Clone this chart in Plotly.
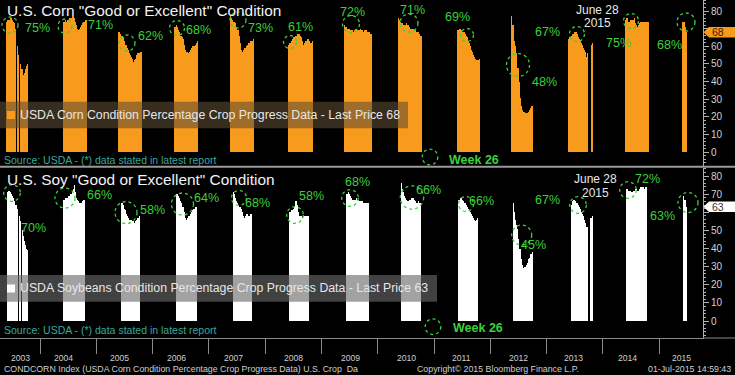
import pandas as pd
import plotly.graph_objects as go

# ------------------------------------------------------------------ data
YEARS = [2003, 2004, 2005, 2006, 2007, 2008, 2009, 2010, 2011, 2012, 2013, 2014, 2015]

# first weekly report date of each season (week-ending dates)
CORN_START = ['2003-05-31', '2004-06-01', '2005-05-24', '2006-05-23', '2007-05-21',
              '2008-06-01', '2009-05-30', '2010-05-16', '2011-06-03', '2012-05-18',
              '2013-05-23', '2014-05-28', '2015-05-31']
SOY_START = ['2003-06-03', '2004-06-01', '2005-06-12', '2006-06-05', '2007-06-10',
             '2008-06-07', '2009-06-12', '2010-06-04', '2011-06-09', '2012-05-31',
             '2013-06-12', '2014-06-03', '2015-06-07']

# weekly "good or excellent" percentages (None = no report that week)
CORN_2003 = [74, 75, 75, 76, 76, 75, 74, 73, 70, None, 60, 55, None, 50, 47, 44, 45, 47, 49, 50]
CORN_2004 = [74, 74, 75, 74, 75, 75, 76, 76, 77, 77, 76, 74, 72, 70, 69, 70, 71, 72, 73, 74, 75, 75]
CORN_2005 = [68, 68, 67, 66, 66, 65, 63, 61, 59, 58, 56, 55, 54, 53, 51, 52, 53, 55, 56, 56, 57, 57]
CORN_2006 = [71, 71, 72, 71, 69, 68, 66, 65, 64, 61, 58, 57, 57, 56, 57, 58, 59, 60, 60, 61, 62, 63]
CORN_2007 = [77, 76, 75, 74, 74, 73, 71, 69, 66, 62, 58, 57, 58, 59, 59, 60, 61, 62, 62, 63, 63, 64]
CORN_2008 = [61, 62, 62, 63, 64, 65, 66, 66, 67, 67, 67, 66, 65, 63, 61, 62, 63, 63, 64, 63, 62, 62, 63]
CORN_2009 = [72, 71, 71, 70, 70, 70, 69, 69, 68, 69, 70, 70, 69, 69, 69, 70, 69, 69, 68, 69, 69, 68, 68, 68, 67, 67]
CORN_2010 = [76, 75, 74, 73, 73, 72, 72, 73, 72, 72, 71, 70, 70, 70, 70, 69, 69, 68, 68, 67, 66, 66]
CORN_2011 = [69, 69, 70, 70, 69, 68, 68, 67, 66, 65, 63, 62, 60, 58, 57, 55, 54, 53, 52, 52, 53]
CORN_2012 = [77, 72, 72, 63, 60, 56, 48, 40, 31, 26, 24, 23, 23, 22, 22, 22, 23, 24, 25, 26]
CORN_2013 = [64, 65, 65, 66, 67, 67, 68, 68, 67, 65, 64, 63, 62, 61, 59, 58, 57, 54, 56, None, None, 61, 62]
CORN_2014 = [75, 76, 76, 74, 74, 75, 75, 75, 76, 73, 72, 71, 72, 73, 74, 74, 74, 74, 74, 74, 74, 74]
CORN_2015 = [74, 74, 74, 71, 68]

SOY_2003 = [71, 72, 72, 71, 70, 69, 68, 66, 64, 62, None, 58, 55, None, 50, 47, 44, 42, 40, 39]
SOY_2004 = [67, 67, 68, 68, 68, 69, 69, 70, 71, 73, 75, 71, 68, 67, 66, 65, 65, 65, 66, 67]
SOY_2005 = [65, 65, 64, 62, 61, 59, 58, 57, 56, 56, 55, 55, 54, 55, 56, 57, 57, 58]
SOY_2006 = [70, 70, 69, 68, 66, 65, 63, 60, 57, 56, 57, 58, 58, 59, 60, 61, 62, 62, 63]
SOY_2007 = [71, 70, 68, 66, 65, 64, 63, 62, 60, 58, 57, 58, 59, 59, 58, 58, 59, 59]
SOY_2008 = [60, 60, 61, 61, 62, 63, 66, 64, 60, 58, 58, 58, 57, 58, 58, 58, 58, 58, 58]
SOY_2009 = [70, 70, 71, 70, 69, 68, 67, 67, 67, 68, 67, 67, 66, 66, 66, 66, 65, 65, 65, 65, 65]
SOY_2010 = [76, 73, 71, 69, 68, 67, 66, 67, 67, 68, 68, 68, 67, 66, 65, 65, 66, 65, 65]
SOY_2011 = [67, 67, 68, 68, 67, 66, 65, 64, 63, 62, 61, 60, 59, 58, 57, 56, 55, 56, 57]
SOY_2012 = [65, 60, 56, 53, 51, 45, 40, 34, 31, 29, 30, 30, 31, 32, 34, 35, 37, 37, 38]
SOY_2013 = [64, 66, 67, 67, 66, 65, 64, 63, 62, 60, 59, 58, 56, 54, 52, 52, None, None, 57, 58]
SOY_2014 = [73, 73, 72, 72, 72, 71, 71, 72, 73, 73, 72, 72, 73, 74, 74, 74, 74, 73, 74, 74]
SOY_2015 = [69, 67, 67, 63]

CORN_SERIES = [CORN_2003, CORN_2004, CORN_2005, CORN_2006, CORN_2007, CORN_2008, CORN_2009,
               CORN_2010, CORN_2011, CORN_2012, CORN_2013, CORN_2014, CORN_2015]
SOY_SERIES = [SOY_2003, SOY_2004, SOY_2005, SOY_2006, SOY_2007, SOY_2008, SOY_2009,
              SOY_2010, SOY_2011, SOY_2012, SOY_2013, SOY_2014, SOY_2015]

CORN_WEEK26 = ['75%', '71%', '62%', '68%', '73%', '61%', '72%', '71%', '69%', '48%', '67%', '75%', '68%']
SOY_WEEK26 = ['70%', '66%', '58%', '64%', '68%', '58%', '68%', '66%', '66%', '45%', '67%', '72%', '63%']
CORN_LAST = CORN_2015[-1]
SOY_LAST = SOY_2015[-1]
Y_TICKS = [0, 10, 20, 30, 40, 50, 60, 70, 80]

# ------------------------------------------------------------------ layout constants (pixels)
W, H = 735, 375
PW = 703                        # plot area width (right axis at x=703)
X_RANGE = ['2003-04-16', '2015-10-13']
TOP_DOM = (0, 166)              # pixel rows of the corn panel
BOT_DOM = (168, 338)            # pixel rows of the soy panel
TOP_Y = (-7.757, 86.228)
BOT_Y = (-9.379, 84.414)

ORANGE = 'rgba(248,154,28,0.999)'
WHITE = 'rgba(255,255,255,0.999)'
GREEN = '#3ccf3c'
TEAL = '#3aa89c'
FONT = 'Liberation Sans, Arial, sans-serif'


def px(x):
    return x / PW


def py(y):
    return 1 - y / H


def weekly(starts, series):
    xs, ys = [], []
    for s, vals in zip(starts, series):
        d = pd.date_range(s, periods=len(vals), freq='7D')
        xs += list(d.strftime('%Y-%m-%d'))
        ys += list(vals)
    return xs, ys


cx, cy = weekly(CORN_START, CORN_SERIES)
sx, sy = weekly(SOY_START, SOY_SERIES)

fig = go.Figure()
fig.add_trace(go.Bar(x=cx, y=cy, xaxis='x', yaxis='y', hoverinfo='skip',
                     marker=dict(color=ORANGE, line=dict(width=0)), showlegend=False))
fig.add_trace(go.Bar(x=sx, y=sy, xaxis='x2', yaxis='y2', hoverinfo='skip',
                     marker=dict(color=WHITE, line=dict(width=0)), showlegend=False))


def yaxis_common(hidden):
    # the tick label hidden under the last-price tag is left blank
    return dict(side='right', showgrid=False, zeroline=False, showline=True,
                linecolor='#b0b0b0', linewidth=1, ticks='outside', ticklen=5,
                tickcolor='#b0b0b0', tickmode='array', tickvals=Y_TICKS,
                ticktext=['' if t == hidden else str(t) for t in Y_TICKS],
                tickfont=dict(family=FONT, size=10, color='#d0d0d0'),
                minor=dict(ticks='outside', ticklen=2, tickcolor='#b0b0b0', tick0=0, dtick=2,
                           showgrid=False),
                fixedrange=True)


jan1 = [f'{y}-01-01' for y in YEARS[1:]]

fig.update_layout(
    width=W, height=H,
    margin=dict(l=0, r=W - PW, t=0, b=0),
    paper_bgcolor='black', plot_bgcolor='black',
    bargap=0, bargroupgap=0, barmode='overlay',
    showlegend=False,
    xaxis=dict(domain=[0, 1], range=X_RANGE, type='date', visible=False, anchor='y',
               fixedrange=True),
    xaxis2=dict(domain=[0, 1], range=X_RANGE, type='date', anchor='y2', showgrid=False,
                zeroline=False, showline=True, linecolor='#8a8a8a', linewidth=1,
                ticks='outside', ticklen=15, tickcolor='#8a8a8a', tickmode='array',
                tickvals=jan1, showticklabels=False, fixedrange=True),
    yaxis=dict(domain=[py(TOP_DOM[1]), py(TOP_DOM[0])], range=list(TOP_Y), anchor='x',
               **yaxis_common(70)),
    yaxis2=dict(domain=[py(BOT_DOM[1]), py(BOT_DOM[0])], range=list(BOT_Y), anchor='x2',
                **yaxis_common(60)),
)

shapes = []
ann = []

# panel separator line
shapes.append(dict(type='line', xref='paper', yref='paper', x0=0, x1=W / PW,
                   y0=py(166.8), y1=py(166.8), line=dict(color='#9a9a9a', width=2)))
shapes.append(dict(type='line', xref='paper', yref='paper', x0=1, x1=W / PW,
                   y0=py(338), y1=py(338), line=dict(color='#8a8a8a', width=1)))

# legend boxes
shapes.append(dict(type='rect', xref='paper', yref='paper', x0=0, x1=px(408), y0=py(128.3),
                   y1=py(101.7), fillcolor='rgba(95,78,52,0.58)', line=dict(width=0)))
shapes.append(dict(type='rect', xref='paper', yref='paper', x0=px(7), x1=px(15), y0=py(119),
                   y1=py(111), fillcolor='#f89a1c', line=dict(width=0)))
shapes.append(dict(type='rect', xref='paper', yref='paper', x0=0, x1=px(437), y0=py(301.7),
                   y1=py(275), fillcolor='rgba(105,105,105,0.62)', line=dict(width=0)))
shapes.append(dict(type='rect', xref='paper', yref='paper', x0=px(7), x1=px(15), y0=py(292.5),
                   y1=py(284.5), fillcolor='#ffffff', line=dict(width=0)))

ann.append(dict(text='USDA Corn Condition Percentage Crop Progress Data - Last Price %d' % CORN_LAST,
                x=px(18), y=py(115), xanchor='left', yanchor='middle'))
ann.append(dict(text='USDA Soybeans Condition Percentage Crop Progress Data - Last Price %d' % SOY_LAST,
                x=px(18), y=py(288.3), xanchor='left', yanchor='middle'))
for a in ann:
    a.update(xref='paper', yref='paper', showarrow=False,
             font=dict(family=FONT, size=12.3, color='#e6e6e6'))

# titles and source lines
for txt, yy in [('U.S. Corn "Good or Excellent" Condition', 11),
                ('U.S. Soy "Good or Excellent" Condition', 179.5)]:
    ann.append(dict(text=txt, x=px(5), y=py(yy), xref='paper', yref='paper', xanchor='left',
                    yanchor='middle', showarrow=False,
                    font=dict(family=FONT, size=15.4, color='#f2f2f2')))
for yy in [159.5, 329.5]:
    ann.append(dict(text='Source: USDA - (*) data stated in latest report', x=px(1.5), y=py(yy),
                    xref='paper', yref='paper', xanchor='left', yanchor='middle', showarrow=False,
                    font=dict(family=FONT, size=10.5, color=TEAL)))

# week-26 circles and labels
CORN_CIRCLES = [(10, 25, 8), (65, 26, 7), (127, 43, 8), (177, 28, 7.5), (238, 20, 8),
                (290, 42, 6.5), (351, 24, 8.5), (409, 23, 9), (467, 35, 6.5), (518, 65, 11.5),
                (577, 34, 7.5), (631, 21, 7.5), (686, 22, 9), (430, 157, 7.8)]
SOY_CIRCLES = [(12, 193, 8.3), (65, 198, 10), (126, 212.5, 11), (182.5, 204, 11), (239, 198, 7.5),
               (295, 215, 8.3), (350, 198, 8.3), (412, 197.5, 11.7), (466, 204, 7.5),
               (521.7, 235, 10), (578, 205, 8.3), (628, 190, 8.3), (688, 202.5, 10),
               (433, 326.7, 7.8)]
CORN_LABEL_XY = [(37, 28), (100, 25), (150, 36), (198, 29.5), (260, 27.5), (300, 27), (352, 11.7),
                 (412.5, 10), (457, 16.7), (544, 81.7), (547, 31.7), (618, 43), (669, 45)]
SOY_LABEL_XY = [(33, 228), (99, 195), (152.5, 210), (206, 198), (257.5, 203), (311, 196),
                (357.7, 182), (428, 190), (481, 201), (533, 245), (547.5, 200), (647, 179),
                (662, 215.7)]

for (cxp, cyp, r) in CORN_CIRCLES + SOY_CIRCLES:
    shapes.append(dict(type='circle', xref='paper', yref='paper', x0=px(cxp - r), x1=px(cxp + r),
                       y0=py(cyp + r), y1=py(cyp - r),
                       line=dict(color=GREEN, width=1.3, dash='dot')))

for labels, pos in [(CORN_WEEK26, CORN_LABEL_XY), (SOY_WEEK26, SOY_LABEL_XY)]:
    for t, (lx, ly) in zip(labels, pos):
        ann.append(dict(text=t, x=px(lx), y=py(ly), xref='paper', yref='paper', showarrow=False,
                        xanchor='center', yanchor='middle',
                        font=dict(family=FONT, size=12.5, color=GREEN)))

for lx, ly in [(474, 160), (478, 327.5)]:
    ann.append(dict(text='<b>Week 26</b>', x=px(lx), y=py(ly), xref='paper', yref='paper',
                    showarrow=False, xanchor='center', yanchor='middle',
                    font=dict(family=FONT, size=12.5, color=GREEN)))

for lx, ly, t in [(597, 10, 'June 28'), (597, 23.3, '2015'), (595, 179.3, 'June 28'), (595, 192.7, '2015')]:
    ann.append(dict(text=t, x=px(lx), y=py(ly), xref='paper', yref='paper', showarrow=False,
                    xanchor='center', yanchor='middle', borderpad=0,
                    font=dict(family=FONT, size=12, color='#e8e8e8')))

# last-price tags on the right axis
for yref, val, kpx, fill, tcol in [('y', CORN_LAST, 1.76625, '#f89a1c', '#3a2200'),
                                   ('y2', SOY_LAST, 1.8125, '#ffffff', '#333333')]:
    h = 5.2 / kpx
    xa, xb, xc = px(703.5), px(709), px(735)
    shapes.append(dict(type='path', xref='paper', yref=yref,
                       path=f'M {xa},{val} L {xb},{val + h} L {xc},{val + h} L {xc},{val - h} L {xb},{val - h} Z',
                       fillcolor=fill, line=dict(width=0)))
    ann.append(dict(text=str(val), x=px(709.5), y=val, xref='paper', yref=yref, showarrow=False,
                    xanchor='left', yanchor='middle', font=dict(family=FONT, size=10.5, color=tcol)))

# year labels on the bottom strip
YEAR_LABEL_PX = [20.7, 63.3, 120, 176.7, 233.3, 293.3, 350, 406.7, 461.7, 518.3, 573.3, 627.3, 681.7]
for yv, lx in zip(YEARS, YEAR_LABEL_PX):
    ann.append(dict(text=str(yv), x=px(lx), y=py(357.5), xref='paper', yref='paper',
                    showarrow=False, xanchor='center', yanchor='middle',
                    font=dict(family=FONT, size=8.6, color='#cfcfcf')))

# footer
ann.append(dict(text='CONDCORN Index (USDA Corn Condition Percentage Crop Progress Data) U.S. Crop  Da',
                x=px(2), y=py(369), xanchor='left'))
ann.append(dict(text='Copyright\u00a9 2015 Bloomberg Finance L.P.', x=px(497.5), y=py(369),
                xanchor='center'))
ann.append(dict(text='01-Jul-2015 14:59:43', x=px(733), y=py(369), xanchor='right'))
for a in ann[-3:]:
    a.update(xref='paper', yref='paper', showarrow=False, yanchor='middle',
             font=dict(family=FONT, size=8.8, color='#cfcfcf'))

fig.update_layout(shapes=shapes, annotations=ann)
fig.write_html('out.html', config={'displayModeBar': False, 'staticPlot': False},
               post_script="document.body.style.margin='0';document.body.style.overflow='hidden';")
